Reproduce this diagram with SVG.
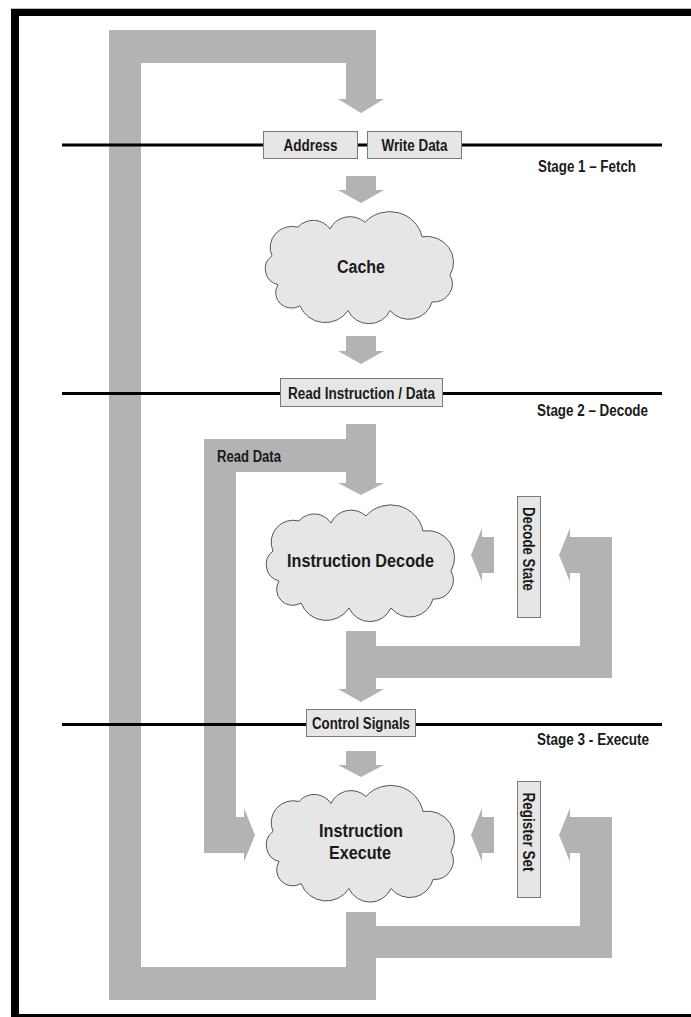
<svg xmlns="http://www.w3.org/2000/svg" xmlns:xlink="http://www.w3.org/1999/xlink" width="691" height="1017" viewBox="0 0 691 1017">
<style>
.flow{fill:#b3b3b3;stroke:none}
.stage{stroke:#000;stroke-width:3;fill:none}
.box{fill:#e6e6e6;stroke:#7a7a7a;stroke-width:1}
.cloud{fill:#e6e6e6;stroke:#555;stroke-width:1}
.lbl{font-family:"Liberation Sans",Arial,sans-serif;font-weight:bold;font-size:16px;fill:#1a1a1a}
.big{font-family:"Liberation Sans",Arial,sans-serif;font-weight:bold;font-size:18px;fill:#1a1a1a}
</style>
<defs>
<path id="cloudShape" d="M -88 -10 A 22 22 0 0 1 -62 -40 A 20 20 0 0 1 -30 -38 A 22 22 0 0 1 5 -45 A 33 33 0 0 1 62 -30 A 27 27 0 0 1 90 10 A 19 19 0 0 1 72 38 A 24 24 0 0 1 30 47 A 23 23 0 0 1 -12 47 A 27 27 0 0 1 -60 42 A 16 16 0 0 1 -82 20 A 17 17 0 0 1 -88 -10 Z"/>
</defs>
<rect x="0" y="0" width="691" height="1017" fill="#fff"/>
<g id="frame">
<rect x="11" y="8" width="680" height="1" fill="#bbbbbb"/>
<rect x="11" y="9" width="680" height="7" fill="#000"/>
<rect x="11" y="9" width="8" height="1008" fill="#000"/>
<rect x="11" y="1014" width="680" height="3" fill="#000"/>
</g>
<g id="connectors">
<polygon class="flow" points="109,30 376,30 376,99 384,99 361,113 338,99 346,99 346,63 141,63 141,967 346,967 346,912 376,912 376,926 580,926 580,853 570,853 570,862 559,835 570,808 570,817 612,817 612,958 376,958 376,1000 109,1000"/>
<polygon class="flow" points="346,176 376,176 376,190 384,190 361,203 338,190 346,190"/>
<polygon class="flow" points="346,336 376,336 376,351 384,351 361,364 338,351 346,351"/>
<polygon class="flow" points="346,424 376,424 376,483 384,483 361,495 338,483 346,483 346,472 236,472 236,817 244,817 244,808 255,835 244,862 244,853 204,853 204,439 346,439"/>
<polygon class="flow" points="346,631 376,631 376,646 580,646 580,573 570,573 570,582 559,555 570,528 570,537 612,537 612,678 376,678 376,689 384,689 361,702 338,689 346,689"/>
<polygon class="flow" points="494,537 494,573 482,573 482,582 471,555 482,528 482,537"/>
<polygon class="flow" points="346,751 376,751 376,765 384,765 361,777 338,765 346,765"/>
<polygon class="flow" points="494,817 494,853 482,853 482,862 471,835 482,808 482,817"/>
<text class="lbl" x="217" y="462" textLength="64" lengthAdjust="spacingAndGlyphs">Read Data</text>
</g>
<g id="stage-lines">
<line class="stage" x1="62" y1="145" x2="662" y2="145"/>
<line class="stage" x1="62" y1="393.5" x2="662" y2="393.5"/>
<line class="stage" x1="62" y1="724.5" x2="662" y2="724.5"/>
</g>
<g id="stage1-label"><text class="lbl" x="538" y="172" textLength="98" lengthAdjust="spacingAndGlyphs">Stage 1 – Fetch</text></g>
<g id="stage2-label"><text class="lbl" x="537" y="416" textLength="111" lengthAdjust="spacingAndGlyphs">Stage 2 – Decode</text></g>
<g id="stage3-label"><text class="lbl" x="537" y="745" textLength="112" lengthAdjust="spacingAndGlyphs">Stage 3 - Execute</text></g>
<g id="address">
<rect class="box" x="263.5" y="131.5" width="94" height="27"/>
<text class="lbl" x="310.5" y="151" text-anchor="middle" textLength="54" lengthAdjust="spacingAndGlyphs">Address</text>
</g>
<g id="write-data">
<rect class="box" x="367.5" y="131.5" width="94" height="27"/>
<text class="lbl" x="414.5" y="151" text-anchor="middle" textLength="66" lengthAdjust="spacingAndGlyphs">Write Data</text>
</g>
<g id="cache">
<use xlink:href="#cloudShape" class="cloud" transform="translate(360,265.5) scale(1,0.96)"/>
<text class="big" x="361" y="273" text-anchor="middle" textLength="48" lengthAdjust="spacingAndGlyphs">Cache</text>
</g>
<g id="read-instruction">
<rect class="box" x="280.5" y="378.5" width="162" height="28"/>
<text class="lbl" x="361.5" y="399" text-anchor="middle" textLength="147" lengthAdjust="spacingAndGlyphs">Read Instruction / Data</text>
</g>
<g id="instruction-decode">
<use xlink:href="#cloudShape" class="cloud" transform="translate(361,561)"/>
<text class="big" x="360.5" y="567" text-anchor="middle" textLength="147" lengthAdjust="spacingAndGlyphs">Instruction Decode</text>
</g>
<g id="decode-state">
<rect class="box" x="517.5" y="496.5" width="23" height="121"/>
<text class="lbl" transform="translate(529,549) rotate(90)" x="0" y="5.8" text-anchor="middle" textLength="84" lengthAdjust="spacingAndGlyphs">Decode State</text>
</g>
<g id="control-signals">
<rect class="box" x="306.5" y="709.5" width="109" height="27"/>
<text class="lbl" x="361" y="729" text-anchor="middle" textLength="98" lengthAdjust="spacingAndGlyphs">Control Signals</text>
</g>
<g id="instruction-execute">
<use xlink:href="#cloudShape" class="cloud" transform="translate(361,841.5)"/>
<text class="big" x="361" y="837" text-anchor="middle" textLength="84" lengthAdjust="spacingAndGlyphs">Instruction</text>
<text class="big" x="360" y="859" text-anchor="middle" textLength="62" lengthAdjust="spacingAndGlyphs">Execute</text>
</g>
<g id="register-set">
<rect class="box" x="517.5" y="781.5" width="23" height="116"/>
<text class="lbl" transform="translate(529,832) rotate(90)" x="0" y="5.8" text-anchor="middle" textLength="79" lengthAdjust="spacingAndGlyphs">Register Set</text>
</g>
</svg>
